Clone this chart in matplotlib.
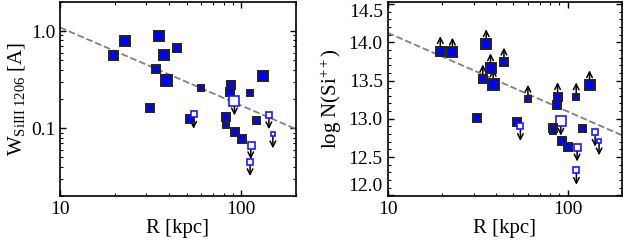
import matplotlib
matplotlib.use('Agg')
import matplotlib.pyplot as plt
from matplotlib.ticker import LogLocator, NullFormatter, MultipleLocator

# impact parameter of each sightline [kpc]
R_kpc = [19.6, 22.9, 35.3, 37.3, 44.3, 33.8, 38.6, 31.5, 60.2, 52.4, 54.7, 88.0, 86.9,
         91.8, 82.6, 82.6, 92.7, 100.7, 113.0, 112.0, 111.7, 121.0, 132.5, 142.3, 149.7]
# SiIII 1206 equivalent width [A]
W_si3 = [0.56, 0.79, 0.89, 0.56, 0.665, 0.406, 0.316, 0.162, 0.258, 0.125, 0.139, 0.281, 0.235,
         0.191, 0.129, 0.107, 0.0917, 0.078, 0.0676, 0.0453, 0.231, 0.1216, 0.347, 0.1377, 0.0875]
# log column density of Si++
logN_si3 = [13.89, 13.87, 13.98, 13.665, 13.74, 13.52, 13.46, 13.005, 13.254, 12.963, 12.90, 13.288, 13.185,
            12.97, 12.885, 12.84, 12.713, 12.632, 12.632, 12.327, 13.284, 12.885, 13.443, 12.825, 12.713]
# 'd' detection, 'u' upper limit, 'l' lower limit
W_flag = ['d', 'd', 'd', 'd', 'd', 'd', 'd', 'd', 'd', 'd', 'u', 'd', 'd',
          'u', 'd', 'd', 'd', 'd', 'u', 'u', 'd', 'd', 'd', 'u', 'u']
N_flag = ['l', 'l', 'l', 'l', 'l', 'l', 'l', 'd', 'l', 'd', 'u', 'l', 'd',
          'u', 'd', 'd', 'd', 'd', 'u', 'u', 'l', 'd', 'l', 'u', 'u']
# symbol size (pixels) per sightline
sym_px = [9, 10, 10, 10, 8, 8, 11, 8, 6.5, 8, 6, 8, 8, 10, 8, 6, 8, 8, 7, 6, 6, 7, 10, 6, 5]

# dashed fit lines (end points)
fit_R = [10, 200]
fit_W = [1.09, 0.098]
fit_N = [14.125, 12.786]

plt.rcParams['font.family'] = ['Liberation Serif', 'DejaVu Serif']
plt.rcParams['mathtext.fontset'] = 'custom'
plt.rcParams['mathtext.rm'] = 'Liberation Serif'
plt.rcParams['mathtext.it'] = 'Liberation Serif:italic'


def draw_points(ax, yvals, flags):
    for r, v, f, s in zip(R_kpc, yvals, flags, sym_px):
        ms = s * 0.72
        if f == 'u':
            ax.plot(r, v, 's', ms=ms, mfc='white', mec='#1a1aff', mew=1.2, zorder=4)
        else:
            ax.plot(r, v, 's', ms=ms, mfc='#0000ff', mec='#222222', mew=1.4, zorder=4)
        if f in ('u', 'l'):
            dy = -10.5 if f == 'u' else 10.5
            ax.annotate('', xy=(r, v), xytext=(0, dy), textcoords='offset points',
                        arrowprops=dict(arrowstyle='<-', color='black', lw=1.1,
                                        shrinkA=0, shrinkB=0,
                                        mutation_scale=10), zorder=3)


def style_axes(ax):
    ax.set_xscale('log')
    ax.set_xlim(10, 200)
    ax.set_xticks([10, 100])
    ax.set_xticklabels(['10', '100'])
    ax.xaxis.set_minor_locator(LogLocator(base=10, subs=range(2, 10)))
    ax.xaxis.set_minor_formatter(NullFormatter())
    ax.tick_params(which='both', direction='in', top=True, right=True, labelsize=14)
    ax.tick_params(which='major', length=4.5, width=1)
    ax.tick_params(which='minor', length=2.5, width=0.8)
    for sp in ax.spines.values():
        sp.set_linewidth(1.2)
    ax.set_xlabel('R [kpc]', fontsize=15, labelpad=1)


def main():
    fig = plt.figure(figsize=(6.23, 2.48), dpi=100)
    ax1 = fig.add_axes([0.0963, 0.2097, 0.3783, 0.783])
    ax2 = fig.add_axes([0.6223, 0.2097, 0.3756, 0.783])

    # left: equivalent width
    ax1.plot(fit_R, fit_W, '--', color='#808080', lw=1.3, zorder=2)
    draw_points(ax1, W_si3, W_flag)
    style_axes(ax1)
    ax1.set_yscale('log')
    ax1.set_ylim(0.02, 2.0)
    ax1.set_yticks([0.1, 1.0])
    ax1.set_yticklabels(['0.1', '1.0'])
    ax1.yaxis.set_minor_locator(LogLocator(base=10, subs=range(2, 10)))
    ax1.yaxis.set_minor_formatter(NullFormatter())
    ax1.set_ylabel(r'W$_{\rm SiIII\ 1206}$ [A]', fontsize=15, labelpad=3)

    # right: column density
    ax2.plot(fit_R, fit_N, '--', color='#808080', lw=1.3, zorder=2)
    draw_points(ax2, logN_si3, N_flag)
    style_axes(ax2)
    ax2.set_ylim(11.99, 14.53)
    ax2.set_yticks([12.0, 12.5, 13.0, 13.5, 14.0, 14.5])
    ax2.set_yticklabels(['12.0', '12.5', '13.0', '13.5', '14.0', '14.5'])
    ax2.yaxis.set_minor_locator(MultipleLocator(0.1))
    ylabs = ax2.get_yticklabels()
    ylabs[0].set_va('bottom')
    ylabs[-1].set_va('top')
    ax2.set_ylabel(r'log N(Si$^{++}$)', fontsize=15, labelpad=3)

    fig.savefig('out.png', dpi=100)


if __name__ == '__main__':
    main()
